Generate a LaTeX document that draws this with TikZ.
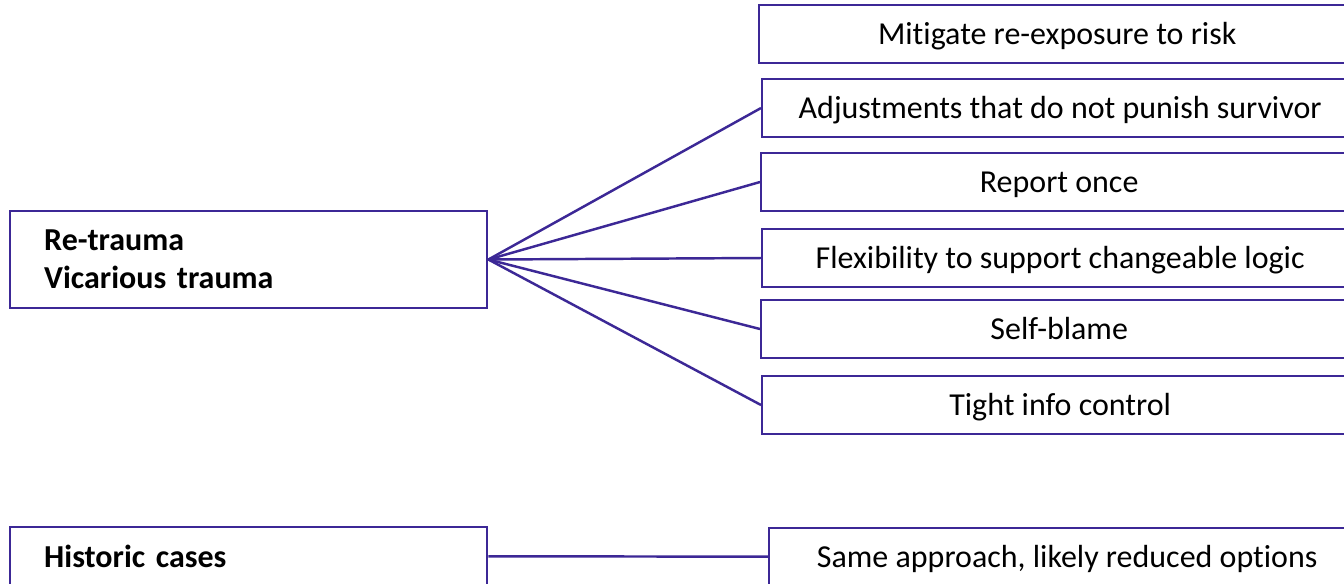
\documentclass[tikz,border=0pt]{standalone}
\usepackage{fontspec}
\setmainfont{Carlito}[RawFeature={-liga}]
\usetikzlibrary{positioning}
\definecolor{linkblue}{RGB}{60,40,150}
\tikzset{
	riskbox/.style={draw=linkblue, line width=1.4pt, anchor=west, minimum width=11.92cm, minimum height=1.16cm, inner sep=0pt, text height=0.4cm, text depth=0pt, font=\fontsize{18.2}{21}\selectfont},
	causebox/.style={draw=linkblue, line width=1.4pt, anchor=west, text width=8.18cm, inner xsep=0.68cm, align=left, font=\fontsize{18.2}{21.6}\selectfont\bfseries},
	link/.style={draw=linkblue, line width=1.4pt}
}
\begin{document}
\begin{tikzpicture}[x=0.02cm, y=-0.02cm]
	\clip (0,0) rectangle (1344,583);
	\fill[white] (0,0) rectangle (1344,583);
	% trauma branch
	\node[causebox, minimum height=1.94cm] (trauma) at (9,259.5) {Re-trauma\\Vicarious trauma};
	\node[riskbox] (mitigate) at (758,34) {Mitigate re-exposure to risk};
	\node[riskbox] (adjust) at (761,108) {Adjustments that do not punish survivor};
	\node[riskbox] (report) at (760,182) {Report once};
	\node[riskbox] (flex) at (761,258) {Flexibility to support changeable logic};
	\node[riskbox] (blame) at (760,329) {Self-blame};
	\node[riskbox] (tight) at (761,405) {Tight info control};
	\foreach \n in {adjust,report,flex,blame,tight}
		\draw[link] (trauma.east) -- (\n.west);
	% historic branch
	\node[causebox, minimum height=1.16cm] (historic) at (9,556) {Historic cases};
	\node[riskbox] (same) at (768,557) {Same approach, likely reduced options};
	\draw[link] (historic) -- (same);
\end{tikzpicture}
\end{document}
